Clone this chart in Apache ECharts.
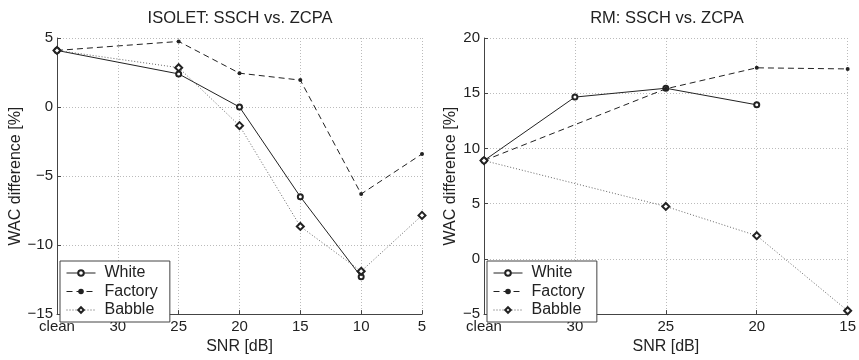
<!DOCTYPE html>
<html>
<head>
<meta charset="utf-8">
<script src="https://cdn.jsdelivr.net/npm/echarts@6/dist/echarts.min.js"></script>
<style>
  html, body { margin: 0; padding: 0; background: #fff; }
  #chart { width: 859px; height: 360px; }
</style>
</head>
<body>
<div id="chart"></div>
<script>
// values
const isoletSnr = ["clean", "30", "25", "20", "15", "10", "5"];
const isoletWhite = [4.1, null, 2.4, 0.0, -6.5, -12.3, null];
const isoletFactory = [4.1, null, 4.75, 2.45, 1.95, -6.3, -3.4];
const isoletBabble = [4.1, null, 2.85, -1.35, -8.65, -11.9, -7.85];

const rmSnr = ["clean", "30", "25", "20", "15"];
const rmWhite = [8.9, 14.65, 15.45, 13.95, null];
const rmFactory = [8.9, null, 15.4, 17.3, 17.2];
const rmBabble = [8.9, null, 4.75, 2.1, -4.7];

const font = "'Liberation Sans', Arial, sans-serif";
const ink = "#222";
const minus = (v) => String(v).replace("-", "\u2212");

const chart = echarts.init(document.getElementById("chart"));

const xAxisFor = (idx, data) => ({
  type: "category",
  gridIndex: idx,
  data: data,
  boundaryGap: false,
  name: "SNR [dB]",
  nameLocation: "middle",
  nameGap: 20,
  nameTextStyle: { color: ink, fontSize: 16, fontFamily: font },
  axisLine: { onZero: false, lineStyle: { color: "#444", width: 1 } },
  axisTick: { inside: true, length: 4, lineStyle: { color: "#444" } },
  axisLabel: { color: ink, fontSize: 15, fontFamily: font, margin: 5 },
  splitLine: { show: true, lineStyle: { color: "#bbb", type: [1, 2] } },
});

const yAxisFor = (idx, min, max, gap) => ({
  type: "value",
  gridIndex: idx,
  min: min,
  max: max,
  interval: 5,
  name: "WAC difference [%]",
  nameLocation: "middle",
  nameRotate: 90,
  nameGap: gap,
  nameTextStyle: { color: ink, fontSize: 16, fontFamily: font },
  axisLine: { show: true, onZero: false, lineStyle: { color: "#444", width: 1 } },
  axisTick: { show: true, inside: true, length: 4, lineStyle: { color: "#444" } },
  axisLabel: { color: ink, fontSize: 15, fontFamily: font, margin: 4, formatter: minus },
  splitLine: { show: true, lineStyle: { color: "#bbb", type: [1, 2] } },
});

const lineSeries = (name, data, idx) => {
  const base = {
    name: name,
    type: "line",
    data: data,
    xAxisIndex: idx,
    yAxisIndex: idx,
    connectNulls: true,
    animation: false,
  };
  if (name === "White") {
    return Object.assign(base, {
      symbol: "emptyCircle", symbolSize: 5,
      lineStyle: { color: ink, width: 1, type: "solid" },
      itemStyle: { color: ink, borderWidth: 0.8 },
    });
  }
  if (name === "Factory") {
    return Object.assign(base, {
      symbol: "circle", symbolSize: 4,
      lineStyle: { color: ink, width: 1, type: [6, 4] },
      itemStyle: { color: ink },
    });
  }
  return Object.assign(base, {
    symbol: "emptyDiamond", symbolSize: 7,
    lineStyle: { color: "#555", width: 0.9, type: [1, 2] },
    itemStyle: { color: ink, borderWidth: 0.8 },
  });
};

const legendFor = (left) => ({
  orient: "vertical",
  left: left,
  top: 261,
  data: ["White", "Factory", "Babble"],
  backgroundColor: "#fff",
  borderColor: "#444",
  borderWidth: 1,
  borderRadius: 0,
  padding: [4, 12, 4, 6],
  itemWidth: 29,
  itemHeight: 7,
  itemGap: 2.5,
  selectedMode: false,
  lineStyle: { width: 1 },
  itemStyle: { borderWidth: 0.8 },
  textStyle: { color: ink, fontSize: 16, lineHeight: 16, fontFamily: font, padding: [0, 0, 0, 4] },
});

chart.setOption({
  backgroundColor: "#fff",
  animation: false,
  title: [
    { text: "ISOLET: SSCH vs. ZCPA", left: 240, top: 10, textAlign: "center", padding: 0,
      textStyle: { color: ink, fontSize: 16.5, fontWeight: "normal", fontFamily: font } },
    { text: "RM: SSCH vs. ZCPA", left: 667, top: 10, textAlign: "center", padding: 0,
      textStyle: { color: ink, fontSize: 16.5, fontWeight: "normal", fontFamily: font } },
  ],
  legend: [legendFor(60), legendFor(487)],
  grid: [
    { left: 57, top: 38, width: 365, height: 286 },
    { left: 484, top: 38, width: 366, height: 286 },
  ],
  xAxis: [xAxisFor(0, isoletSnr), xAxisFor(1, rmSnr)],
  yAxis: [yAxisFor(0, -15, 5, 33), yAxisFor(1, -5, 20, 25)],
  series: [
    lineSeries("White", isoletWhite, 0),
    lineSeries("Factory", isoletFactory, 0),
    lineSeries("Babble", isoletBabble, 0),
    lineSeries("White", rmWhite, 1),
    lineSeries("Factory", rmFactory, 1),
    lineSeries("Babble", rmBabble, 1),
  ],
});
</script>
</body>
</html>
